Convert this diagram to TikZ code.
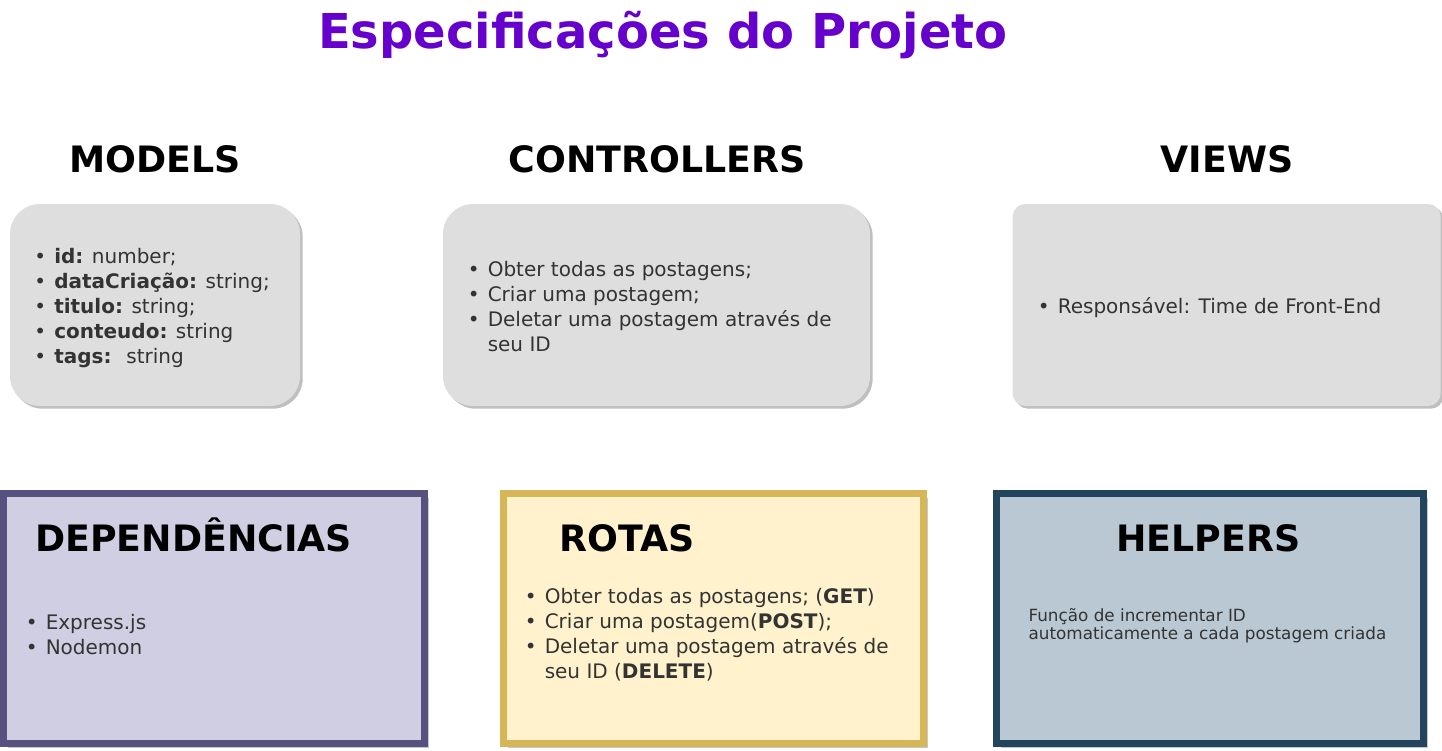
\documentclass[tikz,border=0pt]{standalone}
\usepackage{fontspec}
\setmainfont{DejaVu Sans}
\usetikzlibrary{shadows}

\definecolor{titlecol}{HTML}{6600CC}
\definecolor{boxgray}{HTML}{DEDEDE}
\definecolor{txtgray}{HTML}{333333}
\definecolor{depfill}{HTML}{D0CEE2}
\definecolor{depline}{HTML}{56517E}
\definecolor{rotfill}{HTML}{FFF2CC}
\definecolor{rotline}{HTML}{D6B656}
\definecolor{helpfill}{HTML}{BAC8D3}
\definecolor{helpline}{HTML}{23445D}

% list bullet and hanging indent
\newcommand{\bul}{\makebox[15pt][l]{\textbullet}}
\newcommand{\hang}{\hspace*{15pt}}

\tikzset{
  title/.style={font=\fontsize{36}{40}\selectfont\bfseries, text=titlecol, inner sep=0pt},
  head/.style={font=\fontsize{27.25}{30}\selectfont\bfseries, inner sep=0pt},
  card/.style={fill=boxgray, rounded corners=22.5pt, minimum height=151.5pt,
    drop shadow={shadow xshift=2pt, shadow yshift=-2pt, fill=black!25, opacity=1}},
  panel/.style={line width=5.25pt, minimum height=187.5pt,
    drop shadow={shadow xshift=3pt, shadow yshift=-3pt, fill=black!22, opacity=1}},
  % anchored at the baseline of the last line
  itemlist/.style={font=\fontsize{15}{18.75}\selectfont, text=txtgray, align=left,
    inner sep=0pt, anchor=base west},
}

\begin{document}
\begin{tikzpicture}[x=0.75pt, y=-0.75pt]
  \useasboundingbox[fill=white] (0,0) rectangle (1442,750);

  % title
  \node[title, anchor=base] (title) at (663,48) {Especificações do Projeto};

  % top row: rounded cards
  \node[head, anchor=base] (modelsh) at (155,172.7) {MODELS};
  \node[head, anchor=base] (ctrlh) at (657,172.7) {CONTROLLERS};
  \node[head, anchor=base] (viewsh) at (1227,172.7) {VIEWS};

  \node[card, minimum width=217.5pt] (models) at (155,305) {};
  \node[card, minimum width=320.25pt] (ctrl) at (656.5,305) {};
  \node[card, rounded corners=9.5pt, minimum width=321pt] (views) at (1226.7,305) {};

  \node[itemlist] (modelslist) at (34,363)
    {\bul\textbf{id:} number;\\
     \bul\textbf{dataCriação:} string;\\
     \bul\textbf{titulo:} string;\\
     \bul\textbf{conteudo:} string\\
     \bul\textbf{tags:}~ string};
  \node[itemlist] (ctrllist) at (467.5,351)
    {\bul Obter todas as postagens;\\
     \bul Criar uma postagem;\\
     \bul Deletar uma postagem através de\\
     \hang seu ID};
  \node[itemlist] (viewslist) at (1037.5,313.3)
    {\bul Responsável: Time de Front-End};

  % bottom row: framed panels
  \node[panel, draw=depline, fill=depfill, minimum width=315.75pt] (dep) at (214,618.5) {};
  \node[panel, draw=rotline, fill=rotfill, minimum width=315pt] (rotas) at (713.5,618.5) {};
  \node[panel, draw=helpline, fill=helpfill, minimum width=320.25pt] (help) at (1210,618.5) {};

  \node[head, anchor=base west] (deph) at (35,551.7) {DEPENDÊNCIAS};
  \node[head, anchor=base west] (rotash) at (559,551.7) {ROTAS};
  \node[head, anchor=base] (helph) at (1208.5,551.7) {HELPERS};

  \node[itemlist] (deplist) at (25.5,654.5)
    {\bul Express.js\\
     \bul Nodemon};
  \node[itemlist] (rotaslist) at (524.5,678)
    {\bul Obter todas as postagens; (\textbf{GET})\\
     \bul Criar uma postagem(\textbf{POST});\\
     \bul Deletar uma postagem através de\\
     \hang seu ID (\textbf{DELETE})};
  \node[itemlist, font=\fontsize{12.6}{13.5}\selectfont] (helptext) at (1028.3,639)
    {Função de incrementar ID\\
     automaticamente a cada postagem criada};
\end{tikzpicture}
\end{document}
